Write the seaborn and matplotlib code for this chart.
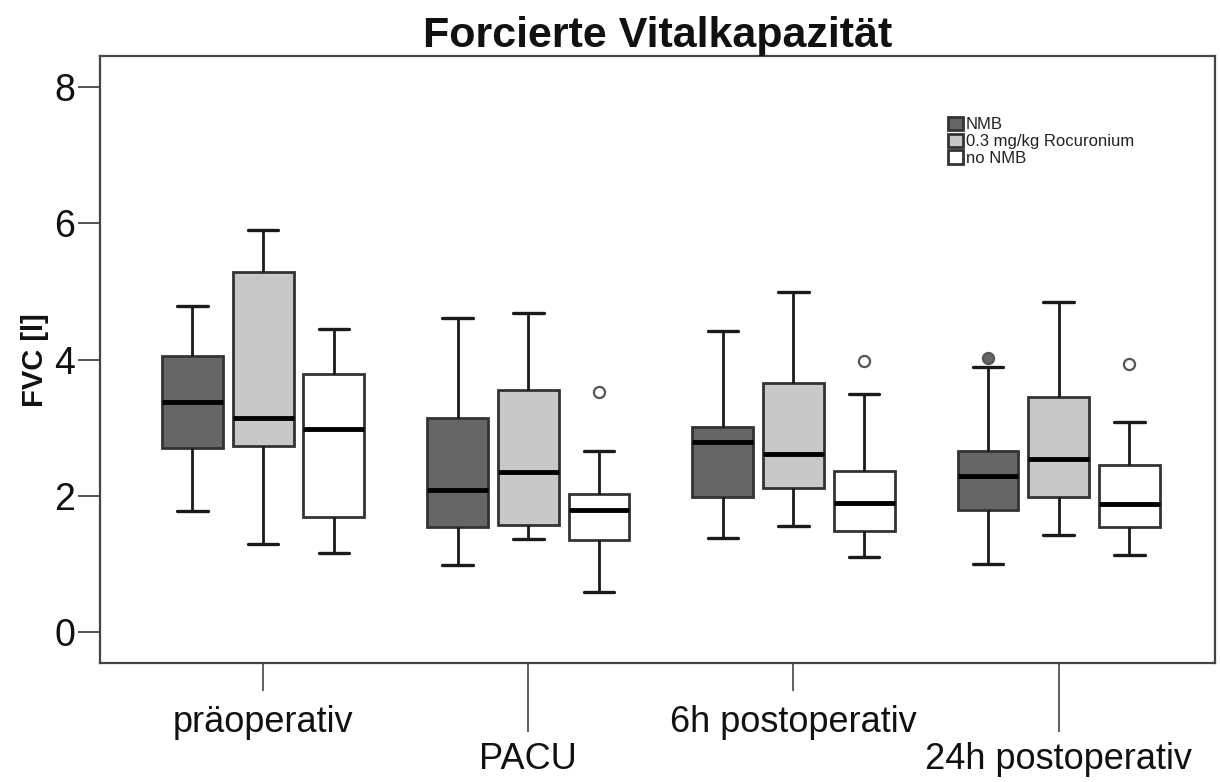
import numpy as np
import pandas as pd
import matplotlib
matplotlib.use("Agg")
import matplotlib.pyplot as plt
import seaborn as sns

# ---------------- data ----------------
categories = ["präoperativ", "PACU", "6h postoperativ", "24h postoperativ"]
groups = ["NMB", "0.3 mg/kg Rocuronium", "no NMB"]

# per category: [lower whisker, Q1, median, Q3, upper whisker]
nmb_stats = [[1.78, 2.71, 3.38, 4.06, 4.79],
             [0.99, 1.54, 2.09, 3.14, 4.61],
             [1.38, 1.99, 2.79, 3.02, 4.42],
             [1.01, 1.80, 2.29, 2.66, 3.89]]
roc_stats = [[1.29, 2.73, 3.14, 5.28, 5.90],
             [1.37, 1.58, 2.36, 3.55, 4.69],
             [1.56, 2.12, 2.61, 3.66, 5.00],
             [1.43, 1.99, 2.54, 3.45, 4.85]]
nonmb_stats = [[1.17, 1.69, 2.98, 3.79, 4.45],
               [0.60, 1.36, 1.79, 2.03, 2.66],
               [1.11, 1.49, 1.90, 2.37, 3.50],
               [1.14, 1.55, 1.88, 2.46, 3.08]]

outlier_category = ["PACU", "6h postoperativ", "24h postoperativ", "24h postoperativ"]
outlier_group = ["no NMB", "no NMB", "NMB", "no NMB"]
outlier_value = [3.53, 3.98, 4.03, 3.94]

y_ticks = [0, 2, 4, 6, 8]

# ---------------- build frames ----------------
rows = []
for g, stats in zip(groups, [nmb_stats, roc_stats, nonmb_stats]):
    for c, s in zip(categories, stats):
        for v in s:
            rows.append({"category": c, "group": g, "value": v})
df = pd.DataFrame(rows)
out_df = pd.DataFrame({"category": outlier_category, "group": outlier_group,
                       "value": outlier_value})

# ---------------- style ----------------
sns.set_theme(style="white")
plt.rcParams["font.family"] = ["Liberation Sans", "DejaVu Sans"]
plt.rcParams["text.color"] = "#111111"
plt.rcParams["axes.labelcolor"] = "#111111"
plt.rcParams["xtick.color"] = "#111111"
plt.rcParams["ytick.color"] = "#111111"

palette = {"NMB": "#666666", "0.3 mg/kg Rocuronium": "#c8c8c8", "no NMB": "#ffffff"}

fig, ax = plt.subplots(figsize=(12.2, 7.82), dpi=100)
fig.subplots_adjust(left=0.082, right=0.996, bottom=0.152, top=0.928)

sns.boxplot(data=df, x="category", y="value", hue="group",
            order=categories, hue_order=groups, palette=palette,
            saturation=1, width=0.8, gap=0.14, whis=np.inf,
            linecolor="#333333", linewidth=2,
            medianprops=dict(color="#000000", linewidth=3.5),
            whiskerprops=dict(color="#1a1a1a", linewidth=2),
            capprops=dict(color="#1a1a1a", linewidth=2.4),
            ax=ax)

sns.stripplot(data=out_df, x="category", y="value", hue="group",
              order=categories, hue_order=groups, palette=palette,
              dodge=True, jitter=False, size=8, linewidth=1.6,
              edgecolor="#555555", legend=False, ax=ax, zorder=5)

# legend
handles, labels = ax.get_legend_handles_labels()
leg = ax.legend(handles, labels, loc="upper left", bbox_to_anchor=(0.760, 0.900),
                frameon=False, fontsize=12, handlelength=0.9, handleheight=0.85,
                handletextpad=0.2, labelspacing=0.08, borderaxespad=0, borderpad=0)
for t in leg.get_texts():
    t.set_color("#222222")

# axes
ax.set_ylim(-0.45, 8.45)
ax.set_xlim(-0.615, 3.59)
ax.set_yticks(y_ticks)
ax.tick_params(axis="y", length=16, width=1.3, color="#444444",
               labelsize=27, pad=2, left=True, labelcolor="#111111")

ax.set_xticks([0, 2], labels=[categories[0], categories[2]])
ax.set_xticks([1, 3], labels=[categories[1], categories[3]], minor=True)
ax.tick_params(axis="x", which="major", length=20, width=1.2, color="#444444",
               labelsize=26, pad=10, bottom=True, labelcolor="#111111")
ax.tick_params(axis="x", which="minor", length=50, width=1.2, color="#444444",
               labelsize=26, pad=7, bottom=True, labelcolor="#111111")

for sp in ax.spines.values():
    sp.set_color("#444444")
    sp.set_linewidth(1.6)

ax.set_xlabel("")
ax.set_ylabel("FVC [l]", fontsize=21, fontweight="bold", labelpad=4, color="#111111")
ax.set_title("Forcierte Vitalkapazität", fontsize=31, fontweight="bold", pad=5,
             color="#111111")
ax.grid(False)

fig.savefig("out.png", dpi=100)
